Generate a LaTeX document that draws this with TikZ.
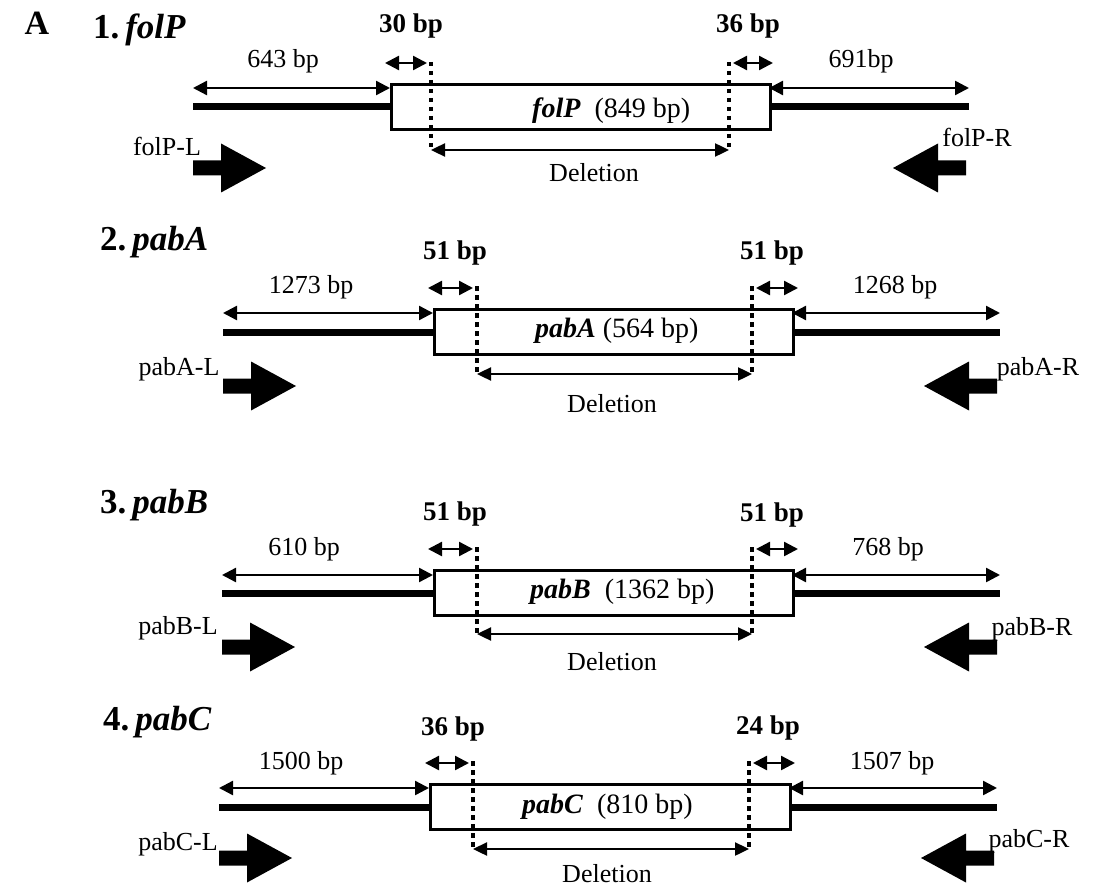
\documentclass[tikz,border=0pt]{standalone}
\usepackage{fontspec}
\setmainfont{Liberation Serif}
\usetikzlibrary{arrows.meta}
\tikzset{
  dimarrow/.style={line width=2.4pt,{Triangle[length=14pt,width=14pt]}-{Triangle[length=14pt,width=14pt]}},
  delarrow/.style={line width=2.4pt,{Triangle[length=14pt,width=13pt]}-{Triangle[length=14pt,width=13pt]}},
  dna/.style={line width=7pt},
  genebox/.style={draw,line width=2.6pt,fill=white,anchor=north west,minimum height=45pt,inner sep=0pt},
  cutline/.style={line width=4pt,dash pattern=on 4.5pt off 4.5pt},
  lbl/.style={font=\fontsize{26}{26}\selectfont,anchor=base,inner sep=0pt},
  blbl/.style={font=\fontsize{27}{27}\selectfont\bfseries,anchor=base,inner sep=0pt},
  ttl/.style={font=\fontsize{35}{35}\selectfont\bfseries,anchor=base west,inner sep=0pt},
  boxtxt/.style={font=\fontsize{28}{28}\selectfont,anchor=base west,inner sep=0pt},
  rblock/.pic={\fill (0,-7.5) -- (28,-7.5) -- (28,-24.5) -- (73,0) -- (28,24.5) -- (28,7.5) -- (0,7.5) -- cycle;},
  lblock/.pic={\fill (0,-7.5) -- (-28,-7.5) -- (-28,-24.5) -- (-73,0) -- (-28,24.5) -- (-28,7.5) -- (0,7.5) -- cycle;}
}
\begin{document}
\begin{tikzpicture}[x=1pt,y=-1pt]
\useasboundingbox (0,0) rectangle (1094,893);
\node[font=\fontsize{34}{34}\selectfont\bfseries,anchor=base,inner sep=0pt] (A) at (37,35) {A};

% ---------- panel 1 ----------
\node[ttl] (t1) at (93,39) {1.\,\textit{folP}};
\node[blbl] (p1bl) at (411,33) {30 bp};
\node[blbl] (p1br) at (748,33) {36 bp};
\node[lbl] (p1ll) at (283,68) {643 bp};
\node[lbl] (p1rl) at (861,68) {691bp};
\node[genebox,minimum width=379pt] (p1box) at (390,83) {};
\node[boxtxt] (p1g) at (532,118) {\textbf{\textit{folP}}\ \ (849 bp)};
\coordinate (p1a1) at (193,88); \coordinate (p1a2) at (390,88);
\coordinate (p1a3) at (769,88); \coordinate (p1a4) at (969,88);
\coordinate (p1l1) at (193,107); \coordinate (p1l2) at (390,107);
\coordinate (p1l3) at (769,107); \coordinate (p1l4) at (969,107);
\coordinate (p1d1t) at (431,62); \coordinate (p1d1b) at (431,150);
\coordinate (p1d2t) at (729,62); \coordinate (p1d2b) at (729,150);
\coordinate (p1s1a) at (385,63); \coordinate (p1s1b) at (427,63);
\coordinate (p1s2a) at (733,63); \coordinate (p1s2b) at (773,63);
\draw[dimarrow] (p1a1) -- (p1a2);
\draw[dimarrow] (p1a3) -- (p1a4);
\draw[dna] (p1l1) -- (p1l2);
\draw[dna] (p1l3) -- (p1l4);
\draw[dimarrow] (p1s1a) -- (p1s1b);
\draw[dimarrow] (p1s2a) -- (p1s2b);
\draw[delarrow] (p1d1b) -- (p1d2b);
\draw[cutline] (p1d1t) -- (p1d1b);
\draw[cutline] (p1d2t) -- (p1d2b);
\node[lbl] (p1del) at (594,182) {Deletion};
\node[lbl] (p1pl) at (167,156) {folP-L};
\node[lbl] (p1pr) at (977,147) {folP-R};
\pic at (193,168) {rblock};
\pic at (966,168) {lblock};

% ---------- panel 2 ----------
\node[ttl] (t2) at (100,251) {2.\,\textit{pabA}};
\node[blbl] (p2bl) at (455,259) {51 bp};
\node[blbl] (p2br) at (772,259) {51 bp};
\node[lbl] (p2ll) at (311,293) {1273 bp};
\node[lbl] (p2rl) at (895,293) {1268 bp};
\node[genebox,minimum width=359pt] (p2box) at (433,308) {};
\node[boxtxt] (p2g) at (535,337) {\textbf{\textit{pabA}} (564 bp)};
\coordinate (p2a1) at (223,313); \coordinate (p2a2) at (433,313);
\coordinate (p2a3) at (792,313); \coordinate (p2a4) at (1000,313);
\coordinate (p2l1) at (223,332); \coordinate (p2l2) at (433,332);
\coordinate (p2l3) at (792,332); \coordinate (p2l4) at (1000,332);
\coordinate (p2d1t) at (477,286); \coordinate (p2d1b) at (477,374);
\coordinate (p2d2t) at (752,286); \coordinate (p2d2b) at (752,374);
\coordinate (p2s1a) at (428,288); \coordinate (p2s1b) at (473,288);
\coordinate (p2s2a) at (756,288); \coordinate (p2s2b) at (798,288);
\draw[dimarrow] (p2a1) -- (p2a2);
\draw[dimarrow] (p2a3) -- (p2a4);
\draw[dna] (p2l1) -- (p2l2);
\draw[dna] (p2l3) -- (p2l4);
\draw[dimarrow] (p2s1a) -- (p2s1b);
\draw[dimarrow] (p2s2a) -- (p2s2b);
\draw[delarrow] (p2d1b) -- (p2d2b);
\draw[cutline] (p2d1t) -- (p2d1b);
\draw[cutline] (p2d2t) -- (p2d2b);
\node[lbl] (p2del) at (612,412) {Deletion};
\node[lbl] (p2pl) at (179,375) {pabA-L};
\node[lbl] (p2pr) at (1038,375) {pabA-R};
\pic at (223,386) {rblock};
\pic at (997,386) {lblock};

% ---------- panel 3 ----------
\node[ttl] (t3) at (100,513) {3.\,\textit{pabB}};
\node[blbl] (p3bl) at (455,520) {51 bp};
\node[blbl] (p3br) at (772,521) {51 bp};
\node[lbl] (p3ll) at (304,555) {610 bp};
\node[lbl] (p3rl) at (888,555) {768 bp};
\node[genebox,minimum width=359pt] (p3box) at (433,569) {};
\node[boxtxt] (p3g) at (530,598) {\textbf{\textit{pabB}}\ \ (1362 bp)};
\coordinate (p3a1) at (222,575); \coordinate (p3a2) at (433,575);
\coordinate (p3a3) at (792,575); \coordinate (p3a4) at (1000,575);
\coordinate (p3l1) at (222,593); \coordinate (p3l2) at (433,593);
\coordinate (p3l3) at (792,593); \coordinate (p3l4) at (1000,593);
\coordinate (p3d1t) at (477,547); \coordinate (p3d1b) at (477,634);
\coordinate (p3d2t) at (752,547); \coordinate (p3d2b) at (752,634);
\coordinate (p3s1a) at (428,549); \coordinate (p3s1b) at (473,549);
\coordinate (p3s2a) at (756,549); \coordinate (p3s2b) at (798,549);
\draw[dimarrow] (p3a1) -- (p3a2);
\draw[dimarrow] (p3a3) -- (p3a4);
\draw[dna] (p3l1) -- (p3l2);
\draw[dna] (p3l3) -- (p3l4);
\draw[dimarrow] (p3s1a) -- (p3s1b);
\draw[dimarrow] (p3s2a) -- (p3s2b);
\draw[delarrow] (p3d1b) -- (p3d2b);
\draw[cutline] (p3d1t) -- (p3d1b);
\draw[cutline] (p3d2t) -- (p3d2b);
\node[lbl] (p3del) at (612,670) {Deletion};
\node[lbl] (p3pl) at (178,634) {pabB-L};
\node[lbl] (p3pr) at (1032,635) {pabB-R};
\pic at (222,647) {rblock};
\pic at (997,647) {lblock};

% ---------- panel 4 ----------
\node[ttl] (t4) at (103,730) {4.\,\textit{pabC}};
\node[blbl] (p4bl) at (453,735) {36 bp};
\node[blbl] (p4br) at (768,734) {24 bp};
\node[lbl] (p4ll) at (301,769) {1500 bp};
\node[lbl] (p4rl) at (892,769) {1507 bp};
\node[genebox,minimum width=360pt] (p4box) at (429,783) {};
\node[boxtxt] (p4g) at (522,813) {\textbf{\textit{pabC}}\ \ (810 bp)};
\coordinate (p4a1) at (219,788); \coordinate (p4a2) at (429,788);
\coordinate (p4a3) at (789,788); \coordinate (p4a4) at (997,788);
\coordinate (p4l1) at (219,807); \coordinate (p4l2) at (429,807);
\coordinate (p4l3) at (789,807); \coordinate (p4l4) at (997,807);
\coordinate (p4d1t) at (473,761); \coordinate (p4d1b) at (473,849);
\coordinate (p4d2t) at (749,761); \coordinate (p4d2b) at (749,849);
\coordinate (p4s1a) at (425,763); \coordinate (p4s1b) at (469,763);
\coordinate (p4s2a) at (753,763); \coordinate (p4s2b) at (795,763);
\draw[dimarrow] (p4a1) -- (p4a2);
\draw[dimarrow] (p4a3) -- (p4a4);
\draw[dna] (p4l1) -- (p4l2);
\draw[dna] (p4l3) -- (p4l4);
\draw[dimarrow] (p4s1a) -- (p4s1b);
\draw[dimarrow] (p4s2a) -- (p4s2b);
\draw[delarrow] (p4d1b) -- (p4d2b);
\draw[cutline] (p4d1t) -- (p4d1b);
\draw[cutline] (p4d2t) -- (p4d2b);
\node[lbl] (p4del) at (607,882) {Deletion};
\node[lbl] (p4pl) at (178,850) {pabC-L};
\node[lbl] (p4pr) at (1029,847) {pabC-R};
\pic at (219,858) {rblock};
\pic at (994,858) {lblock};
\end{tikzpicture}
\end{document}
